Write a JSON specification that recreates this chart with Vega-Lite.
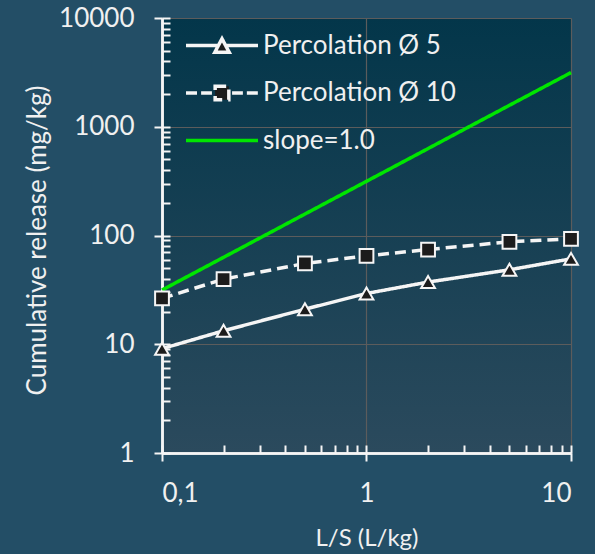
{
  "$schema": "https://vega.github.io/schema/vega-lite/v6.json",
  "width": 409,
  "height": 435,
  "autosize": "none",
  "padding": {"left": 162, "top": 18, "right": 24, "bottom": 101},
  "background": "#234e66",
  "config": {
    "font": "Lato",
    "view": {
      "stroke": null,
      "fill": {"gradient": "linear", "x1": 0, "y1": 0, "x2": 0, "y2": 1,
        "stops": [{"offset": 0, "color": "#03364a"}, {"offset": 1, "color": "#2b4a5d"}]}
    },
    "axis": {
      "domainColor": "#f5f5f5",
      "domainWidth": 2.5,
      "tickColor": "#f5f5f5",
      "tickWidth": 2,
      "labelColor": "#f0f0f0",
      "labelFontSize": 26,
      "labelFont": "Lato",
      "titleColor": "#f0f0f0",
      "titleFontSize": 24,
      "titleFont": "Lato",
      "titleFontWeight": "normal",
      "gridColor": "#5c5c5c",
      "gridWidth": 1.2
    }
  },
  "data": {
    "values": [
      {"series": "Percolation Ø 5", "ls": 0.1, "release": 9.1},
      {"series": "Percolation Ø 5", "ls": 0.2, "release": 13.3},
      {"series": "Percolation Ø 5", "ls": 0.5, "release": 21},
      {"series": "Percolation Ø 5", "ls": 1, "release": 29.3},
      {"series": "Percolation Ø 5", "ls": 2, "release": 37.3},
      {"series": "Percolation Ø 5", "ls": 5, "release": 48.4},
      {"series": "Percolation Ø 5", "ls": 10, "release": 61},
      {"series": "Percolation Ø 10", "ls": 0.1, "release": 26.4},
      {"series": "Percolation Ø 10", "ls": 0.2, "release": 39.7},
      {"series": "Percolation Ø 10", "ls": 0.5, "release": 55.3},
      {"series": "Percolation Ø 10", "ls": 1, "release": 65},
      {"series": "Percolation Ø 10", "ls": 2, "release": 74.3},
      {"series": "Percolation Ø 10", "ls": 5, "release": 87.5},
      {"series": "Percolation Ø 10", "ls": 10, "release": 93.3},
      {"series": "slope=1.0", "ls": 0.1, "release": 31.5},
      {"series": "slope=1.0", "ls": 10, "release": 3150}
    ]
  },
  "layer": [
    {
      "mark": {"type": "line", "strokeWidth": 3.5},
      "encoding": {
        "x": {
          "field": "ls", "type": "quantitative",
          "scale": {"type": "log", "domain": [0.1, 10]},
          "axis": {
            "values": [0.1, 0.2, 0.3, 0.4, 0.5, 0.6, 0.7, 0.8, 0.9, 1, 2, 3, 4, 5, 6, 7, 8, 9, 10],
            "tickSize": -8, "labels": false, "title": null, "grid": false
          }
        },
        "y": {
          "field": "release", "type": "quantitative",
          "scale": {"type": "log", "domain": [1, 10000]},
          "axis": {
            "values": [1, 2, 3, 4, 5, 6, 7, 8, 9, 10, 20, 30, 40, 50, 60, 70, 80, 90, 100, 200, 300, 400, 500, 600, 700, 800, 900, 1000, 2000, 3000, 4000, 5000, 6000, 7000, 8000, 9000, 10000],
            "tickSize": -8, "labels": false, "title": null, "grid": false
          }
        },
        "color": {
          "field": "series", "type": "nominal",
          "scale": {"domain": ["Percolation Ø 5", "Percolation Ø 10", "slope=1.0"], "range": ["#f5f5f5", "#f5f5f5", "#00e600"]},
          "legend": {
            "title": null,
            "orient": "none",
            "legendX": 22,
            "legendY": 12.5,
            "padding": 0,
            "symbolSize": 5184,
            "symbolStrokeWidth": 3.5,
            "labelOffset": 3,
            "labelFontSize": 26,
            "labelFont": "Lato",
            "labelColor": "#f0f0f0",
            "labelLimit": 0,
            "clipHeight": 30,
            "rowPadding": 17.5,
            "encode": {
              "symbols": {
                "update": {
                  "shape": {"signal": "datum.value === 'Percolation Ø 5' ? 'M-1,0H-0.11M0.11,0H1M0,-0.19L0.2,0.19L-0.2,0.19Z' : datum.value === 'Percolation Ø 10' ? 'M-1,0H-0.69M-0.58,0H-0.28M0.28,0H0.58M0.69,0H1M-0.19,-0.19H0.19V0.19H-0.19Z' : 'M-1,0H1'"},
                  "fill": {"signal": "datum.value === 'slope=1.0' ? 'transparent' : '#1c1c1c'"},
                  "strokeDash": {"value": [1, 0]},
                  "strokeWidth": {"value": 3.5}
                }
              }
            }
          }
        },
        "strokeDash": {
          "field": "series", "type": "nominal",
          "scale": {"domain": ["Percolation Ø 5", "Percolation Ø 10", "slope=1.0"], "range": [[1, 0], [11, 6], [1, 0]]},
          "legend": null
        }
      }
    },
    {
      "transform": [{"filter": "datum.series !== 'slope=1.0'"}],
      "mark": {"type": "point", "filled": true, "fill": "#1c1c1c", "stroke": "#f5f5f5", "strokeWidth": 2, "opacity": 1, "size": 190},
      "encoding": {
        "x": {
          "field": "ls", "type": "quantitative",
          "scale": {"type": "log", "domain": [0.1, 10]},
          "axis": {
            "orient": "bottom",
            "values": [0.1, 1, 10],
            "labelExpr": "datum.value < 0.5 ? '0,1' : datum.value < 5 ? '1' : '10'",
            "tickSize": 8, "labelPadding": 19, "grid": true,
            "title": "L/S (L/kg)", "titlePadding": 20
          }
        },
        "y": {
          "field": "release", "type": "quantitative",
          "scale": {"type": "log", "domain": [1, 10000]},
          "axis": {
            "orient": "left",
            "values": [1, 10, 100, 1000, 10000],
            "labelExpr": "format(datum.value, 'd')",
            "tickSize": 8, "labelPadding": 20, "grid": true,
            "title": "Cumulative release (mg/kg)", "titlePadding": 8,
            "titleFontSize": 26, "titleY": 222
          }
        },
        "shape": {
          "field": "series", "type": "nominal",
          "scale": {"domain": ["Percolation Ø 5", "Percolation Ø 10"], "range": ["triangle-up", "square"]},
          "legend": null
        }
      }
    }
  ],
  "resolve": {"axis": {"x": "independent", "y": "independent"}}
}
